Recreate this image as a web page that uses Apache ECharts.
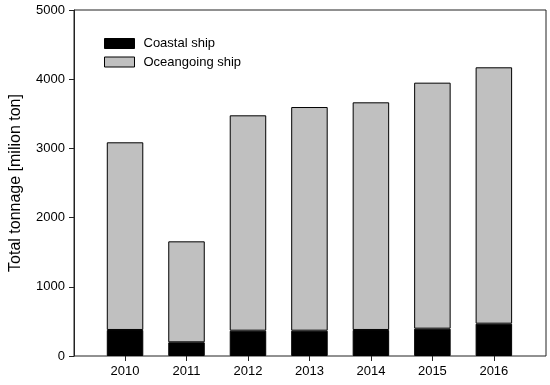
<!DOCTYPE html>
<html><head><meta charset="utf-8">
<script src="https://cdn.jsdelivr.net/npm/echarts@6/dist/echarts.min.js"></script>
<style>html,body{margin:0;padding:0;background:#fff}#c{width:550px;height:385px}</style>
</head><body><div id="c"></div>
<script>
const years = ['2010','2011','2012','2013','2014','2015','2016'];
const coastal = [376, 198, 366, 366, 376, 395, 467];
const oceangoing = [2712, 1459, 3112, 3232, 3290, 3555, 3705];
const yTicks = [0, 1000, 2000, 3000, 4000, 5000];

const font = 'Liberation Sans, Arial, sans-serif';
const chart = echarts.init(document.getElementById('c'));
chart.setOption({
  animation: false,
  backgroundColor: '#fff',
  grid: [
    {left: 73, right: 4, top: 10, bottom: 29, show: true, borderColor: '#222', borderWidth: 1, backgroundColor: 'transparent'},
    {left: 94.3, width: 430.3, top: 10, bottom: 29}
  ],
  legend: {
    left: 99, top: 32, orient: 'vertical', itemWidth: 30, itemHeight: 10, itemGap: 5.5,
    icon: 'rect',
    textStyle: {fontFamily: font, fontSize: 13, color: '#000', padding: [0,0,0,4]},
    data: [
      {name: 'Coastal ship', itemStyle: {color: '#000', borderColor: '#000', borderWidth: 1}},
      {name: 'Oceangoing ship', itemStyle: {color: '#c0c0c0', borderColor: '#000', borderWidth: 1}}
    ]
  },
  xAxis: [
    {gridIndex: 0, type: 'value', min: 0, max: 1, show: false},
    {gridIndex: 1, type: 'category', data: years, boundaryGap: true,
     axisLine: {show: false},
     axisTick: {show: true, alignWithLabel: true, length: 5, lineStyle: {color: '#222'}},
     axisLabel: {fontFamily: font, fontSize: 13, color: '#000', margin: 9}}
  ],
  yAxis: [
    {gridIndex: 0, type: 'value', min: 0, max: 5000, interval: 1000,
     name: 'Total tonnage [milion ton]', nameLocation: 'middle', nameGap: 50,
     nameTextStyle: {fontFamily: font, fontSize: 16, color: '#000'},
     axisLine: {show: true, lineStyle: {color: '#222'}},
     axisTick: {show: true, inside: false, length: 5, lineStyle: {color: '#222'}},
     axisLabel: {fontFamily: font, fontSize: 13, color: '#000', margin: 9,
       formatter: v => yTicks.includes(v) ? String(v) : ''},
     splitLine: {show: false}},
    {gridIndex: 1, type: 'value', min: 0, max: 5000, show: false, splitLine: {show: false}}
  ],
  series: [
    {name: 'Coastal ship', type: 'bar', stack: 't', xAxisIndex: 1, yAxisIndex: 1,
     data: coastal, barWidth: 36.5,
     itemStyle: {color: '#000', borderColor: '#000', borderWidth: 1}},
    {name: 'Oceangoing ship', type: 'bar', stack: 't', xAxisIndex: 1, yAxisIndex: 1,
     data: oceangoing, barWidth: 36.5,
     itemStyle: {color: '#c0c0c0', borderColor: '#000', borderWidth: 1}}
  ]
});
</script></body></html>
